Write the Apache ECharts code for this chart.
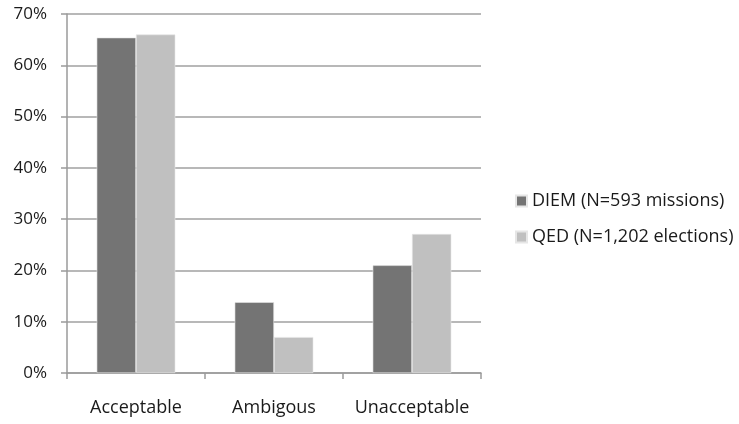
<!DOCTYPE html>
<html>
<head>
<meta charset="utf-8">
<script src="https://cdn.jsdelivr.net/npm/echarts@6/dist/echarts.min.js"></script>
<style>
  html, body { margin: 0; padding: 0; background: #fff; }
  #chart { width: 739px; height: 424px; }
</style>
</head>
<body>
<div id="chart"></div>
<script>
const categories = ['Acceptable', 'Ambigous', 'Unacceptable'];
const diemValues = [65.4, 13.8, 21.0];
const qedValues = [66.0, 7.0, 27.1];
const seriesNames = ['DIEM (N=593 missions)', 'QED (N=1,202 elections)'];

const chart = echarts.init(document.getElementById('chart'));
const font = '"Open Sans", "Noto Sans", sans-serif';

const option = {
  animation: false,
  color: ['#747474', '#c0c0c0'],
  textStyle: { fontFamily: font },
  legend: {
    orient: 'vertical',
    left: 510,
    top: 187,
    itemGap: 18,
    itemWidth: 11,
    itemHeight: 11,
    icon: 'rect',
    textStyle: { color: '#1a1a1a', fontSize: 18, fontFamily: font },
    data: seriesNames
  },
  grid: { left: 67, right: 258, top: 14, bottom: 51, containLabel: false },
  xAxis: {
    type: 'category',
    data: categories,
    axisLine: { lineStyle: { color: '#9a9a9a', width: 1.5 } },
    axisTick: { show: true, length: 6, lineStyle: { color: '#9a9a9a', width: 1.5 } },
    axisLabel: { color: '#1a1a1a', fontSize: 18, fontFamily: font, margin: 26, interval: 0, hideOverlap: false }
  },
  yAxis: {
    type: 'value',
    min: 0,
    max: 70,
    interval: 10,
    axisLine: { show: true, lineStyle: { color: '#9a9a9a', width: 1.5 } },
    axisTick: { show: true, length: 6, lineStyle: { color: '#9a9a9a', width: 1.5 } },
    splitLine: { lineStyle: { color: '#a0a0a0', width: 1.5 } },
    axisLabel: { color: '#1a1a1a', fontSize: 17, fontFamily: font, margin: 20, formatter: '{value}%' }
  },
  series: [
    {
      name: seriesNames[0],
      type: 'bar',
      data: diemValues,
      barGap: '0%',
      barCategoryGap: '43%',
      itemStyle: { borderColor: '#e6e6e6', borderWidth: 0.6 }
    },
    {
      name: seriesNames[1],
      type: 'bar',
      data: qedValues,
      itemStyle: { borderColor: '#e6e6e6', borderWidth: 0.6 }
    }
  ]
};
chart.setOption(option);
</script>
</body>
</html>
